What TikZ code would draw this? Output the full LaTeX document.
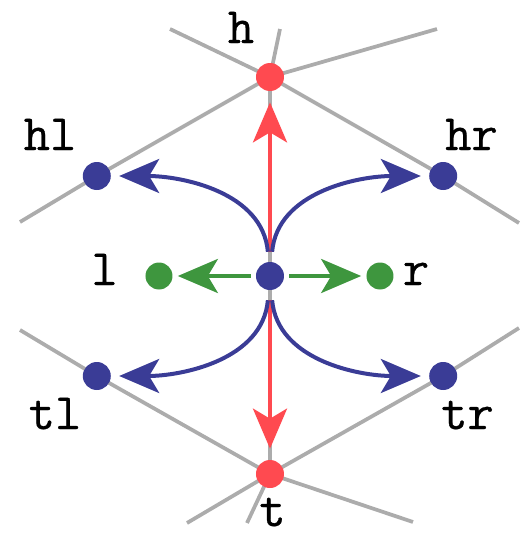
\documentclass[tikz,border=0pt]{standalone}
\usepackage{fontspec}
\usepackage{tikz}
\usetikzlibrary{arrows.meta,backgrounds}

\newfontfamily\labelfont{Latin Modern Mono}[FakeBold=0.6]

\definecolor{dotblue}{RGB}{58,60,150}
\definecolor{dotred}{RGB}{255,74,80}
\definecolor{dotgreen}{RGB}{62,150,62}
\definecolor{meshgrey}{RGB}{172,172,172}

\begin{document}
\begin{tikzpicture}[
    vdot/.style={circle, inner sep=0pt, minimum size=0.56cm},
    bdot/.style={vdot, fill=dotblue},
    rdot/.style={vdot, fill=dotred},
    gdot/.style={vdot, fill=dotgreen, minimum size=0.54cm},
    lbl/.style={anchor=base, inner sep=0pt, font=\fontsize{29}{30}\selectfont\labelfont},
    mesh/.style={draw=meshgrey, line width=0.075cm},
    tip/.style={-{Stealth[length=0.8cm, width=0.68cm, inset=0.2cm]}, line width=0.08cm},
    redarrow/.style={tip, draw=dotred, shorten <=0.2cm, shorten >=0.22cm},
    bluearrow/.style={tip, draw=dotblue, shorten <=0.2cm, shorten >=0.16cm},
    greenarrow/.style={tip, draw=dotgreen, shorten <=0.1cm, shorten >=0.1cm}
]
    \useasboundingbox (-5.4,-5.18) rectangle (4.98,5.52);

    % vertices
    \node [bdot] (c) at (0,0) {};
    \node [rdot] (h) at (90:3.98) {};
    \node [rdot] (t) at (-90:3.96) {};
    \node [bdot] (hl) at (150:4) {};
    \node [bdot] (hr) at (30:4) {};
    \node [bdot] (tl) at (210:4) {};
    \node [bdot] (tr) at (-30:4) {};
    \node [gdot] (l) at (-2.22,0) {};
    \node [gdot] (r) at (2.2,0) {};

    % labels
    \node [lbl] (hlab) at (-0.58,4.66) {h};
    \node [lbl] (hllab) at (-4.4,2.52) {hl};
    \node [lbl] (hrlab) at (4.03,2.52) {hr};
    \node [lbl] (llab) at (-3.31,-0.18) {l};
    \node [lbl] (rlab) at (2.92,-0.18) {r};
    \node [lbl] (tllab) at (-4.3,-3.06) {tl};
    \node [lbl] (trlab) at (3.95,-3.06) {tr};
    \node [lbl] (tlab) at (0.05,-5.0) {t};

    % mesh edges running off the picture
    \coordinate (ul) at (-2,4.94);
    \coordinate (uu) at (0.2,4.94);
    \coordinate (ur) at (3.34,4.94);
    \coordinate (el) at (-5,1.08);
    \coordinate (er) at (4.98,1.06);
    \coordinate (fl) at (-5,-1.08);
    \coordinate (fr) at (4.98,-1.04);
    \coordinate (dl) at (-1.66,-4.94);
    \coordinate (dd) at (-0.46,-4.94);
    \coordinate (dr) at (2.86,-4.92);

    \begin{scope}[on background layer]
        \draw [mesh] (el) -- (hl.center) -- (h.center) -- (hr.center) -- (er);
        \draw [mesh] (ul) -- (h.center) -- (ur);
        \draw [mesh] (uu) -- (h.center) -- (t.center) -- (dd);
        \draw [mesh] (fl) -- (tl.center) -- (t.center) -- (tr.center) -- (fr);
        \draw [mesh] (dl) -- (t.center) -- (dr);
    \end{scope}

    \draw [redarrow] (c) -- (h);
    \draw [redarrow] (c) -- (t);
    \draw [bluearrow] (c) to[out=95, in=0] (hl);
    \draw [bluearrow] (c) to[out=85, in=180] (hr);
    \draw [bluearrow] (c) to[out=-95, in=0] (tl);
    \draw [bluearrow] (c) to[out=-85, in=180] (tr);
    \draw [greenarrow] (c) -- (l);
    \draw [greenarrow] (c) -- (r);
\end{tikzpicture}
\end{document}
